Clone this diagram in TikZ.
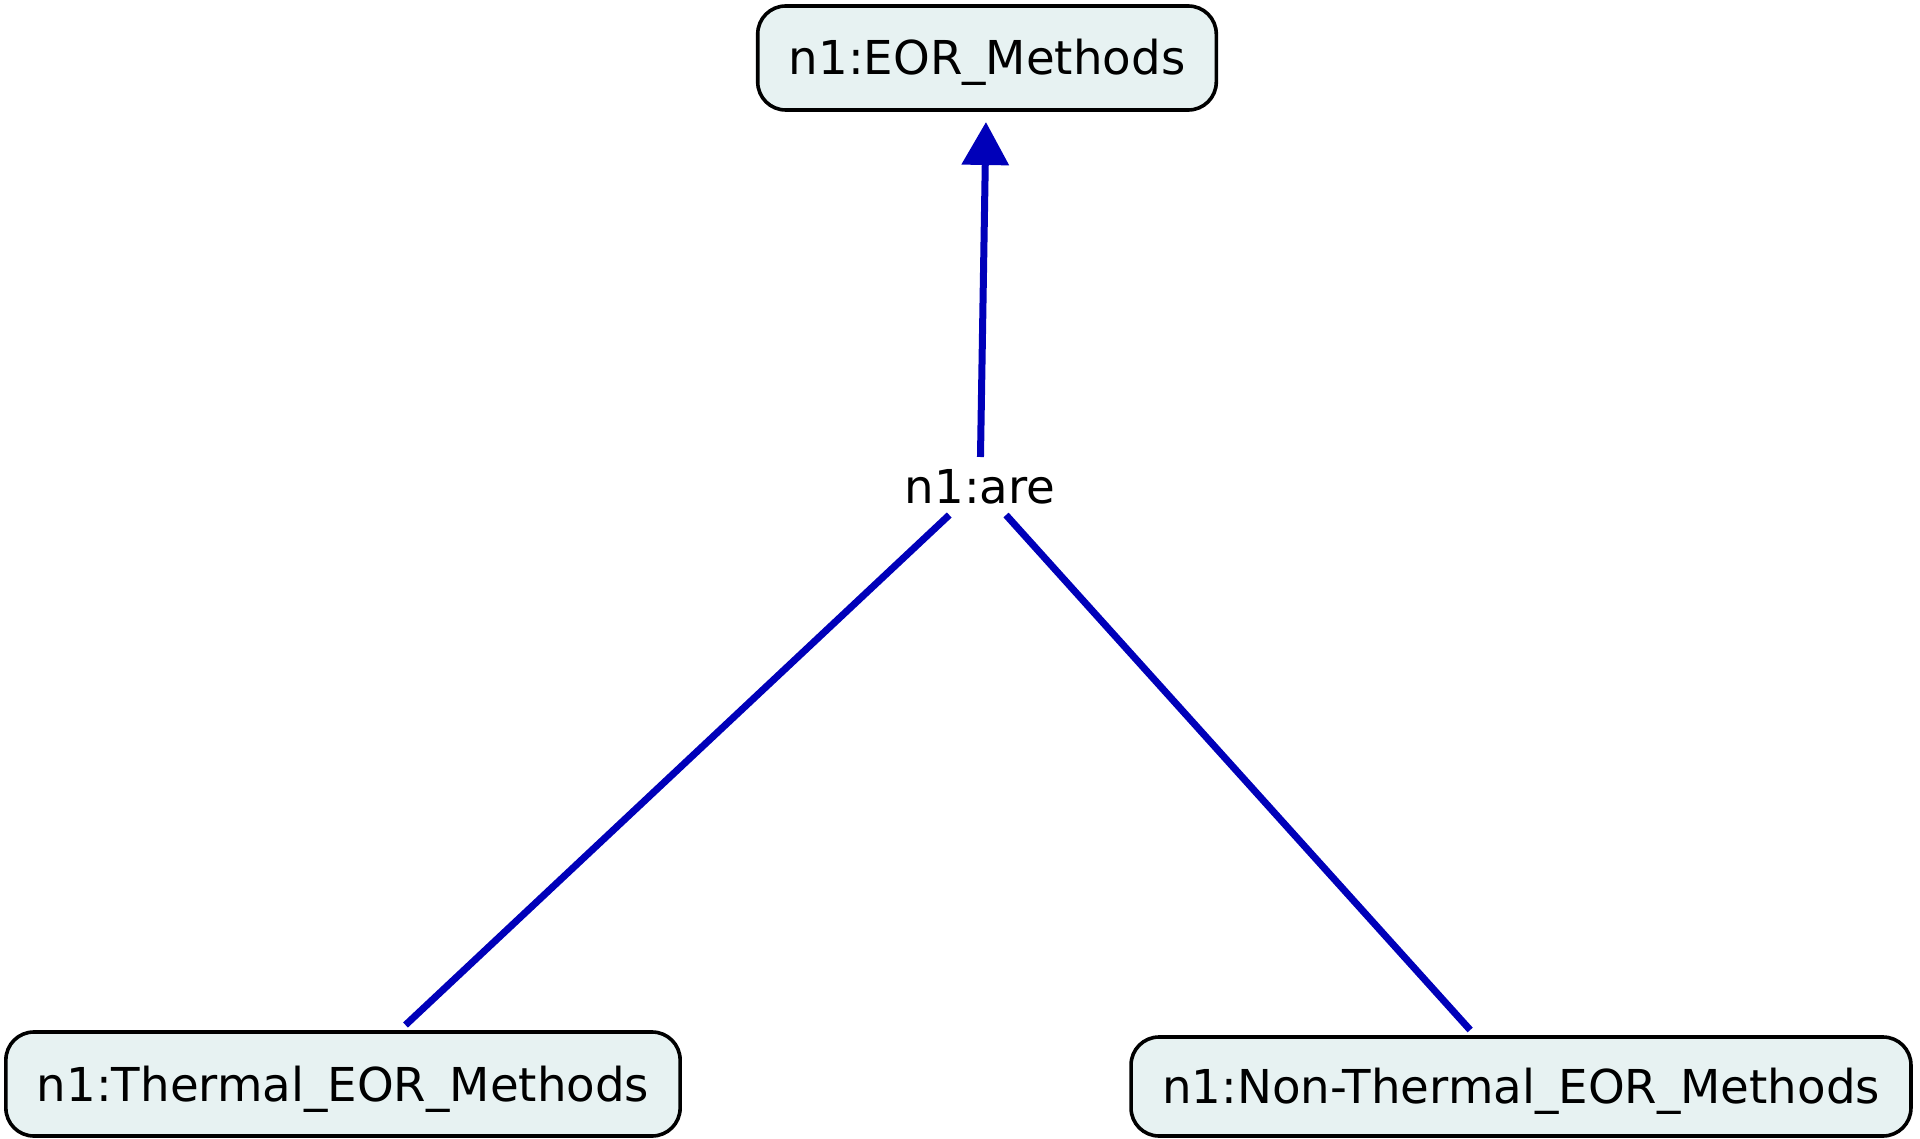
\documentclass[tikz,border=0pt]{standalone}
\usepackage{fontspec}
\setmainfont{DejaVu Sans}
\usetikzlibrary{arrows.meta}
\definecolor{linkblue}{RGB}{0,0,185}
\definecolor{conceptfill}{RGB}{231,242,242}
\begin{document}
\begin{tikzpicture}[x=1pt,y=-1pt,
  concept/.style={draw=black, line width=3.6pt, fill=conceptfill,
    rounded corners=28pt, inner xsep=31pt, inner ysep=0pt,
    minimum height=104pt, text height=34pt, text depth=0pt, outer sep=7pt,
    font=\fontsize{46.7}{56}\selectfont},
  linkword/.style={inner xsep=10pt, inner ysep=12pt, outer sep=0pt,
    text height=34pt, text depth=0pt, font=\fontsize{46.7}{56}\selectfont},
  link/.style={draw=linkblue, line width=7pt}]
\useasboundingbox (0,0) rectangle (1920,1139);
% concepts
\node[concept] (eor) at (987,58) {n1:EOR\_Methods};
\node[concept] (thermal) at (343,1084) {n1:Thermal\_EOR\_Methods};
\node[concept, minimum height=99pt] (nonthermal) at (1521,1086.5) {n1:Non-Thermal\_EOR\_Methods};
% linking phrase
\node[linkword] (are) at (980,486) {n1:are};
% connections
\draw[link, -{Triangle[width=46pt,length=43pt]}, shorten >=5pt] (are) -- (eor);
\draw[link] (are) -- (thermal);
\draw[link] (are) -- (nonthermal);
\end{tikzpicture}
\end{document}
